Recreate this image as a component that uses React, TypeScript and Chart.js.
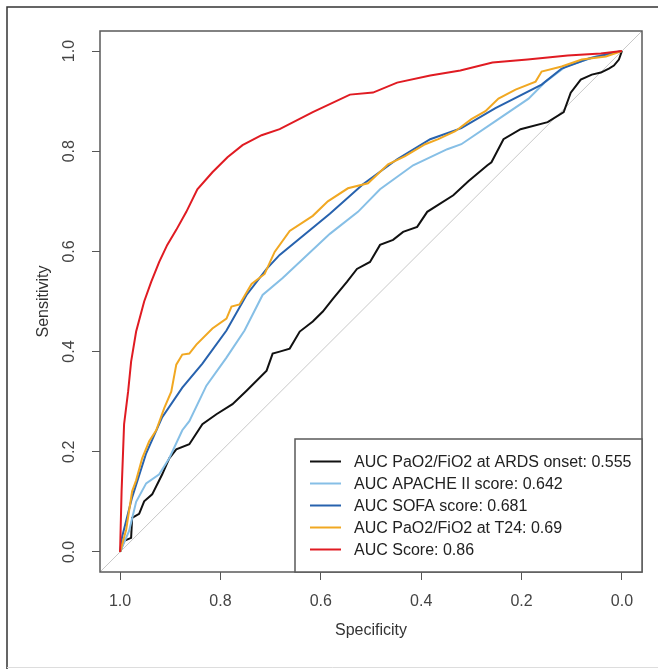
import React, { useEffect, useRef } from "react";
import { Chart, registerables } from "chart.js";

Chart.register(...registerables);

// ---- tick values ----
const xTickValues = [1.0, 0.8, 0.6, 0.4, 0.2, 0.0];
const yTickValues = [0.0, 0.2, 0.4, 0.6, 0.8, 1.0];

// ---- series labels / colours (legend order) ----
const seriesLabels = [
  "AUC PaO2/FiO2 at ARDS onset: 0.555",
  "AUC APACHE II score: 0.642",
  "AUC SOFA score: 0.681",
  "AUC PaO2/FiO2 at T24: 0.69",
  "AUC Score: 0.86",
];
const seriesColors = ["#111111", "#86bfe6", "#2762ae", "#f1a822", "#e01b22"];

// ---- ROC curves: specificity / sensitivity ----
const onsetSpec = [1.0, 0.992, 0.978, 0.976, 0.962, 0.952, 0.936, 0.916, 0.902, 0.888, 0.862, 0.836, 0.808, 0.776, 0.748, 0.708, 0.696, 0.682, 0.662, 0.642, 0.616, 0.596, 0.576, 0.548, 0.528, 0.502, 0.482, 0.456, 0.436, 0.408, 0.388, 0.336, 0.306, 0.268, 0.26, 0.236, 0.202, 0.148, 0.116, 0.102, 0.082, 0.06, 0.042, 0.026, 0.016, 0.006, 0.0];
const onsetSens = [0.0, 0.022, 0.028, 0.068, 0.076, 0.101, 0.115, 0.155, 0.187, 0.205, 0.215, 0.255, 0.275, 0.295, 0.322, 0.362, 0.396, 0.4, 0.406, 0.44, 0.46, 0.48, 0.505, 0.539, 0.565, 0.579, 0.613, 0.623, 0.639, 0.649, 0.679, 0.712, 0.74, 0.772, 0.778, 0.824, 0.844, 0.858, 0.878, 0.917, 0.943, 0.953, 0.957, 0.965, 0.971, 0.983, 1.0];

const apacheSpec = [1.0, 0.982, 0.968, 0.948, 0.922, 0.902, 0.876, 0.862, 0.828, 0.788, 0.752, 0.716, 0.676, 0.582, 0.526, 0.482, 0.416, 0.348, 0.32, 0.252, 0.186, 0.152, 0.112, 0.052, 0.0];
const apacheSens = [0.0, 0.042, 0.1, 0.137, 0.155, 0.187, 0.243, 0.261, 0.332, 0.388, 0.442, 0.513, 0.547, 0.635, 0.679, 0.724, 0.772, 0.804, 0.814, 0.86, 0.905, 0.939, 0.969, 0.989, 1.0];

const sofaSpec = [1.0, 0.996, 0.976, 0.948, 0.916, 0.876, 0.836, 0.788, 0.748, 0.708, 0.682, 0.582, 0.516, 0.448, 0.382, 0.32, 0.252, 0.16, 0.12, 0.066, 0.0];
const sofaSens = [0.0, 0.03, 0.109, 0.197, 0.269, 0.328, 0.376, 0.442, 0.513, 0.565, 0.593, 0.675, 0.734, 0.784, 0.824, 0.846, 0.886, 0.933, 0.965, 0.985, 1.0];

const t24Spec = [1.0, 0.988, 0.976, 0.968, 0.956, 0.942, 0.928, 0.912, 0.898, 0.888, 0.876, 0.862, 0.848, 0.816, 0.788, 0.778, 0.762, 0.738, 0.712, 0.692, 0.662, 0.616, 0.586, 0.546, 0.506, 0.466, 0.432, 0.392, 0.366, 0.332, 0.3, 0.272, 0.246, 0.212, 0.172, 0.16, 0.12, 0.08, 0.032, 0.0];
const t24Sens = [0.0, 0.044, 0.121, 0.143, 0.187, 0.221, 0.243, 0.287, 0.32, 0.374, 0.394, 0.396, 0.414, 0.446, 0.466, 0.49, 0.494, 0.535, 0.555, 0.599, 0.641, 0.671, 0.7, 0.726, 0.736, 0.774, 0.79, 0.814, 0.824, 0.84, 0.864, 0.88, 0.905, 0.923, 0.939, 0.959, 0.969, 0.983, 0.989, 1.0];

const scoreSpec = [1.0, 0.997, 0.992, 0.984, 0.978, 0.968, 0.952, 0.938, 0.922, 0.906, 0.888, 0.868, 0.846, 0.816, 0.786, 0.756, 0.718, 0.682, 0.616, 0.542, 0.496, 0.448, 0.382, 0.322, 0.258, 0.188, 0.108, 0.042, 0.0];
const scoreSens = [0.0, 0.121, 0.255, 0.32, 0.38, 0.44, 0.5, 0.539, 0.579, 0.613, 0.643, 0.679, 0.724, 0.758, 0.788, 0.812, 0.832, 0.844, 0.878, 0.913, 0.917, 0.937, 0.951, 0.961, 0.977, 0.983, 0.991, 0.995, 1.0];

const chanceLine = [1.04, -0.04];

const FONT = "'Liberation Sans', Arial, Helvetica, sans-serif";

export default function App() {
  const ref = useRef<HTMLCanvasElement | null>(null);

  useEffect(() => {
    const canvas = ref.current;
    if (!canvas) return;

    const specs = [onsetSpec, apacheSpec, sofaSpec, t24Spec, scoreSpec];
    const senss = [onsetSens, apacheSens, sofaSens, t24Sens, scoreSens];

    const datasets: any[] = specs.map((sp, i) => ({
      label: seriesLabels[i],
      data: sp.map((x, j) => ({ x, y: senss[i][j] })),
      borderColor: seriesColors[i],
      backgroundColor: seriesColors[i],
      borderWidth: 2,
      pointRadius: 0,
      showLine: true,
      tension: 0,
      fill: false,
      order: 10 - i,
    }));
    datasets.push({
      label: "chance",
      data: chanceLine.map((x) => ({ x, y: 1 - x })),
      borderColor: "#c8c8c8",
      borderWidth: 1,
      pointRadius: 0,
      showLine: true,
      fill: false,
      order: 50,
    });

    const framePlugin = {
      id: "frame",
      beforeDraw(chart: any) {
        const c = chart.ctx;
        c.save();
        c.fillStyle = "#ffffff";
        c.fillRect(0, 0, chart.width, chart.height);
        c.strokeStyle = "#333333";
        c.lineWidth = 1.5;
        c.beginPath();
        c.moveTo(7, chart.height);
        c.lineTo(7, 7);
        c.lineTo(chart.width, 7);
        c.stroke();
        c.strokeStyle = "#dddddd";
        c.lineWidth = 1;
        c.beginPath();
        c.moveTo(7, 667.5);
        c.lineTo(chart.width, 667.5);
        c.stroke();
        c.restore();
      },
      afterDatasetsDraw(chart: any) {
        const c = chart.ctx;
        const a = chart.chartArea;
        c.save();
        c.strokeStyle = "#5a5a5a";
        c.lineWidth = 1.5;
        c.strokeRect(a.left, a.top, a.right - a.left, a.bottom - a.top);
        c.restore();
      },
    };

    const legendPlugin = {
      id: "rocLegend",
      afterDraw(chart: any) {
        const c = chart.ctx;
        const a = chart.chartArea;
        const left = 295;
        const top = 439;
        c.save();
        c.fillStyle = "#ffffff";
        c.fillRect(left, top, a.right - left, a.bottom - top);
        c.strokeStyle = "#5a5a5a";
        c.lineWidth = 1.5;
        c.strokeRect(left, top, a.right - left, a.bottom - top);
        c.font = `16px ${FONT}`;
        c.textBaseline = "middle";
        c.textAlign = "left";
        seriesLabels.forEach((lab, i) => {
          const y = 461.5 + i * 22;
          c.strokeStyle = seriesColors[i];
          c.lineWidth = 2;
          c.beginPath();
          c.moveTo(310, y);
          c.lineTo(341, y);
          c.stroke();
          c.fillStyle = "#222222";
          c.fillText(lab, 354, y + 1);
        });
        c.restore();
      },
    };

    const chart = new Chart(canvas, {
      type: "scatter",
      data: { datasets },
      options: {
        animation: false,
        responsive: false,
        maintainAspectRatio: false,
        layout: { padding: { top: 31, right: 16, left: 0, bottom: 0 } },
        plugins: { legend: { display: false }, tooltip: { enabled: false } },
        scales: {
          x: {
            type: "linear",
            reverse: true,
            min: -0.04,
            max: 1.04,
            afterBuildTicks: (s: any) => {
              s.ticks = xTickValues.map((v) => ({ value: v }));
            },
            afterFit: (s: any) => {
              s.height = 97;
            },
            grid: { drawOnChartArea: false, drawTicks: true, tickLength: 8, color: "#555555", lineWidth: 1 },
            border: { display: false },
            ticks: {
              autoSkip: false,
              minRotation: 0,
              maxRotation: 0,
              padding: 12,
              color: "#444444",
              font: { family: FONT, size: 16 },
              callback: (v: any) => Number(v).toFixed(1),
            },
            title: {
              display: true,
              text: "Specificity",
              color: "#333333",
              font: { family: FONT, size: 16 },
              padding: { top: 0, bottom: 29 },
            },
          },
          y: {
            type: "linear",
            min: -0.04,
            max: 1.04,
            afterBuildTicks: (s: any) => {
              s.ticks = yTickValues.map((v) => ({ value: v }));
            },
            afterFit: (s: any) => {
              s.width = 100;
            },
            grid: { drawOnChartArea: false, drawTicks: true, tickLength: 8, color: "#555555", lineWidth: 1 },
            border: { display: false },
            ticks: {
              autoSkip: false,
              minRotation: 90,
              maxRotation: 90,
              crossAlign: "center",
              padding: 11,
              color: "#444444",
              font: { family: FONT, size: 16 },
              callback: (v: any) => Number(v).toFixed(1),
            },
            title: {
              display: true,
              text: "Sensitivity",
              color: "#333333",
              font: { family: FONT, size: 16 },
              padding: { top: 34, bottom: 0 },
            },
          },
        },
      } as any,
      plugins: [framePlugin, legendPlugin],
    });

    return () => chart.destroy();
  }, []);

  return (
    <canvas
      ref={ref}
      width={658}
      height={669}
      style={{ position: "absolute", left: 0, top: 0, width: 658, height: 669, display: "block" }}
    />
  );
}
